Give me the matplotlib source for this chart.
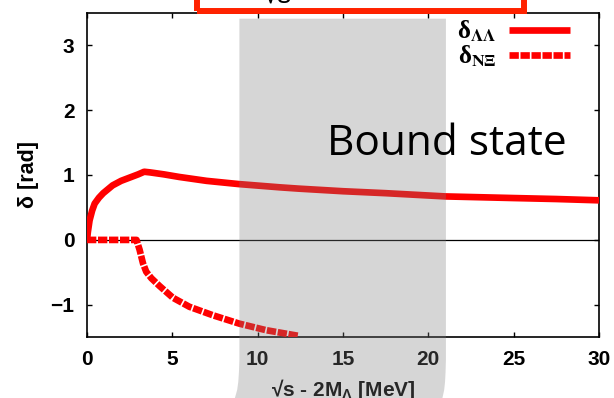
import numpy as np
import matplotlib
matplotlib.use("Agg")
import matplotlib.pyplot as plt
from matplotlib.patches import Polygon, Rectangle

plt.rcParams['font.family'] = ['Liberation Sans', 'DejaVu Sans']
plt.rcParams['mathtext.fontset'] = 'custom'
plt.rcParams['mathtext.rm'] = 'Liberation Sans'
plt.rcParams['mathtext.bf'] = 'Liberation Sans:bold'

# phase shifts (rad) vs sqrt(s) - 2M_Lambda (MeV)
x_LL = [0.0, 0.05, 0.15, 0.3, 0.45, 0.7, 0.95, 1.5, 2.0, 2.5, 3.0, 3.35,
        3.7, 4.5, 5.4, 7.0, 8.9, 11.3, 12.4, 15.0, 17.5, 21.0, 25.0, 27.5, 30.0]
d_LL = [0.0, 0.12, 0.30, 0.45, 0.56, 0.65, 0.72, 0.84, 0.91, 0.96, 1.01, 1.05,
        1.04, 1.01, 0.97, 0.91, 0.86, 0.81, 0.79, 0.75, 0.72, 0.67, 0.645, 0.63, 0.61]

x_NX = [0.0, 2.9, 3.08, 3.28, 3.47, 3.77, 4.25, 5.03, 6.0, 7.37, 8.93, 10.49, 12.44]
d_NX = [0.0, 0.0, -0.15, -0.36, -0.49, -0.59, -0.71, -0.89, -1.03, -1.16, -1.29, -1.39, -1.48]

band = (8.93, 21.03)  # shaded region (MeV)

W, H = 614, 398
fig = plt.figure(figsize=(W / 100, H / 100), dpi=100)
ax = fig.add_axes([87 / W, 1 - 337.3 / H, 512 / W, (337.3 - 12.7) / H])
ax.set_facecolor('none')

ax.axhline(0, color='black', lw=0.9, zorder=1)
ax.plot(x_LL, d_LL, color='#ff0000', lw=4.8, solid_capstyle='butt',
        label=r'δ$_{\mathbf{ΛΛ}}$', zorder=3)
ax.plot(x_NX, d_NX, color='#ff0000', lw=4.8, dashes=(1.4, 0.25),
        dash_capstyle='butt', label=r'δ$_{\mathbf{NΞ}}$', zorder=3)

ax.set_xlim(0, 30)
ax.set_ylim(-1.5, 3.5)
ax.set_xticks([0, 5, 10, 15, 20, 25, 30])
ax.set_yticks([-1, 0, 1, 2, 3])
ax.tick_params(direction='in', length=3.6, width=1, top=True, right=True,
               labelsize=15, pad=9)
for lab in ax.get_xticklabels() + ax.get_yticklabels():
    lab.set_fontweight('bold')
for sp in ax.spines.values():
    sp.set_linewidth(1.2)

ax.set_xlabel(r'√s - 2M$_{\mathbf{Λ}}$ [MeV]', fontsize=15, fontweight='bold', labelpad=6)
ax.set_ylabel('δ [rad]', fontsize=15.5, fontweight='bold', labelpad=8)

leg = ax.legend(loc='upper right', bbox_to_anchor=(0.949, 0.99), markerfirst=False,
                frameon=False,
                prop={'family': 'Liberation Serif', 'size': 18, 'weight': 'bold'},
                handlelength=2.45, handletextpad=0.5, labelspacing=0.0,
                borderaxespad=0.0, borderpad=0.1)
for t in leg.get_texts():
    t.set_math_fontfamily('stix')

# translucent band overlay, running past the bottom of the axes
y_top = 1 - 18.7 / H
x0 = ax.transData.transform((band[0], 0))[0] / W
x1 = ax.transData.transform((band[1], 0))[0] / W
flare = [(360, 0.0), (372, 0.1), (382, 0.25), (390, 0.5), (398, 1.0)]
left = [(x0 - 4.5 * f / W, 1 - y / H) for y, f in flare]
right = [(x1 - 3.5 * f / W, 1 - y / H) for y, f in flare]
pts = [(x0, y_top)] + left + right[::-1] + [(x1, y_top)]
fig.patches.append(Polygon(pts, closed=True, transform=fig.transFigure,
                           facecolor=(0.494, 0.494, 0.494), alpha=0.318,
                           edgecolor='none', zorder=1))

fig.text(327 / W, 1 - 155 / H, 'Bound state', fontsize=30.5, family='Open Sans',
         ha='left', va='baseline', zorder=2)

# title box cut off at the top edge
fig.patches.append(Rectangle((197 / W, 1 - 11 / H), 327 / W, 40 / H,
                             transform=fig.transFigure, facecolor='none',
                             edgecolor='#ff2200', lw=4.3, zorder=3))
fig.text(262 / W, 1 - 4 / H, '√s', fontsize=20, ha='left', va='baseline', zorder=3)

fig.savefig('out.png', dpi=100)
